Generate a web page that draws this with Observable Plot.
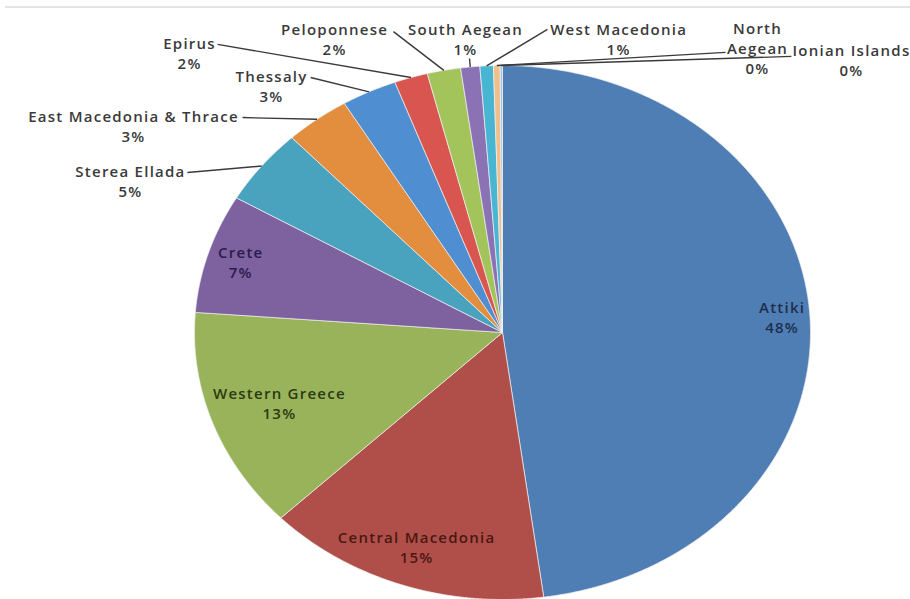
<!DOCTYPE html>
<html>
<head>
<meta charset="utf-8">
<script src="https://cdn.jsdelivr.net/npm/d3@7"></script>
<script src="https://cdn.jsdelivr.net/npm/@observablehq/plot@0.6"></script>
<style>
  html, body { margin: 0; padding: 0; background: #fff; }
  #wrap { position: relative; width: 910px; height: 599px; overflow: hidden; }
  #topline { position: absolute; left: 5px; right: 0; top: 6px; height: 2px; background: #e4e4e4; }
  svg text { font-family: "Open Sans", sans-serif; letter-spacing: 1.25px; }
</style>
</head>
<body>
<div id="wrap"><div id="topline"></div><div id="chart"></div></div>
<script>
// ---- data ----
const regions = ["Attiki","Central Macedonia","Western Greece","Crete","Sterea Ellada","East Macedonia & Thrace","Thessaly","Epirus","Peloponnese","South Aegean","West Macedonia","North Aegean","Ionian Islands"];
const shares = [47.8, 14.9, 13.4, 7.2, 4.6, 3.4, 2.9, 1.75, 1.75, 1.0, 0.7, 0.35, 0.12];
const sliceColors = ["#4f7eb5","#b04f4a","#98b35a","#7e619f","#4aa3be","#e38e3e","#4f8ed1","#d8564f","#a2c45b","#8a72b5","#48b5d2","#f0c08c","#a8c2e3"];
const insideTextColors = {"Attiki":"#1d2f4d","Central Macedonia":"#4a1712","Western Greece":"#2c3a13","Crete":"#2a1c4a"};

// ---- layout (label placement in the chart's unit coordinates) ----
const insideR = {"Attiki":0.91,"Central Macedonia":0.85,"Western Greece":0.77,"Crete":0.89};
const outsideLayout = {
  "Sterea Ellada":           {lx:-1.208, ly:0.569, ex:-1.023, ey:0.599},
  "East Macedonia & Thrace": {lx:-1.198, ly:0.775, ex:-0.844, ey:0.805},
  "Thessaly":                {lx:-0.750, ly:0.925, ex:-0.623, ey:0.955},
  "Epirus":                  {lx:-1.016, ly:1.049, ex:-0.925, ey:1.079},
  "Peloponnese":             {lx:-0.545, ly:1.101, ex:-0.354, ey:1.127},
  "South Aegean":            {lx:-0.120, ly:1.101, ex:-0.107, ey:1.026},
  "West Macedonia":          {lx: 0.377, ly:1.101, ex: 0.146, ey:1.135},
  "North Aegean":            {lx: 0.828, ly:1.067, ex: 0.724, ey:1.049, text:"North\nAegean"},
  "Ionian Islands":          {lx: 1.133, ly:1.022, ex: 0.938, ey:1.034}
};

// ---- build slices ----
const data = regions.map((r, i) => ({region: r, value: shares[i]}));
const total = d3.sum(shares);
const arcs = d3.pie().sort(null).value(d => d.value).startAngle(0).endAngle(2 * Math.PI)(data);

const polyPoints = [];
arcs.forEach(a => {
  const name = a.data.region;
  polyPoints.push({region: name, x: 0, y: 0});
  const step = Math.PI / 720;
  for (let t = a.startAngle; t < a.endAngle; t += step) {
    polyPoints.push({region: name, x: Math.sin(t), y: Math.cos(t)});
  }
  polyPoints.push({region: name, x: Math.sin(a.endAngle), y: Math.cos(a.endAngle)});
  polyPoints.push({region: name, x: 0, y: 0});
});

const pct = v => Math.round(v / total * 100) + "%";
const inside = [], outside = [], leaders = [];
arcs.forEach(a => {
  const name = a.data.region;
  const mid = (a.startAngle + a.endAngle) / 2;
  if (insideR[name] !== undefined) {
    const r = insideR[name];
    inside.push({x: r * Math.sin(mid), y: r * Math.cos(mid), text: name + "\n" + pct(a.data.value), color: insideTextColors[name]});
  } else {
    const L = outsideLayout[name];
    outside.push({x: L.lx, y: L.ly, text: (L.text || name) + "\n" + pct(a.data.value)});
    leaders.push({x1: L.ex, y1: L.ey, x2: Math.sin(mid), y2: Math.cos(mid)});
  }
});

const chart = Plot.plot({
  width: 910,
  height: 599,
  margin: 0,
  x: {domain: [-1, 1], range: [194, 810], axis: null},
  y: {domain: [-1, 1], range: [599, 65], axis: null},
  color: {type: "ordinal", domain: regions, range: sliceColors},
  marks: [
    Plot.line(polyPoints, {x: "x", y: "y", z: "region", fill: "region", stroke: "#f0f0f0", strokeWidth: 0.7, curve: "linear"}),
    Plot.link(leaders, {x1: "x1", y1: "y1", x2: "x2", y2: "y2", stroke: "#3a3a3a", strokeWidth: 1.4}),
    Plot.text(outside, {x: "x", y: "y", text: "text", fill: "#3a3a3a", fontSize: 15, lineHeight: 1.35, fontWeight: 600}),
    Plot.text(inside, {x: "x", y: "y", text: "text", fill: d => d.color, fontSize: 15, lineHeight: 1.35, fontWeight: 600})
  ]
});
document.getElementById("chart").appendChild(chart);
</script>
</body>
</html>
